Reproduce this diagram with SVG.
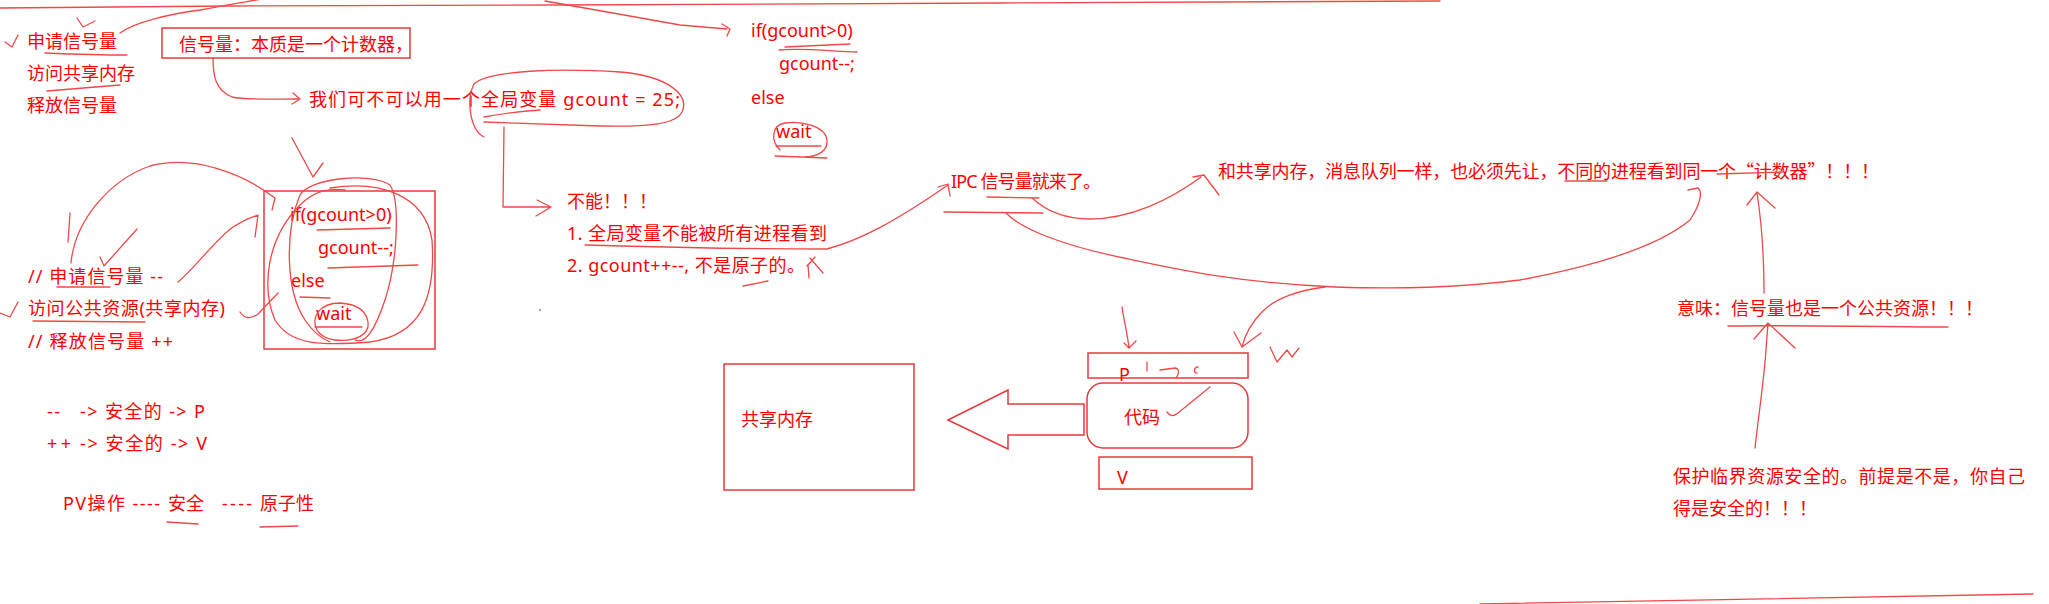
<svg xmlns="http://www.w3.org/2000/svg" width="2049" height="604" viewBox="0 0 2049 604">
<style>
.t{font-family:"Noto Sans","Noto Sans CJK SC",sans-serif;font-size:18px;fill:#F00}
.c{font-family:"Noto Sans CJK SC",sans-serif;font-size:18px;fill:#F00}
.s{fill:none;stroke:#F04848;stroke-width:1.3;stroke-linecap:round;stroke-linejoin:round}
.b{fill:none;stroke:#E8383D;stroke-width:1.5}
</style>
<rect width="2049" height="604" fill="#fff"/>
<g id="notes-left">
<text class="c" x="27" y="48">申请信号量</text>
<text class="c" x="27" y="80">访问共享内存</text>
<text class="c" x="27" y="112">释放信号量</text>
</g>
<g id="node-essence">
<rect class="b" x="162" y="28" width="248" height="30"/>
<text class="c" x="179" y="51">信号量：本质是一个计数器，</text>
</g>
<g id="node-global">
<text class="t" x="309" y="106" textLength="371" lengthAdjust="spacing">我们可不可以用一个全局变量 gcount = 25;</text>
</g>
<g id="node-code-top">
<text class="t" x="751" y="37">if(gcount&gt;0)</text>
<text class="t" x="779" y="70">gcount--;</text>
<text class="t" x="751" y="104">else</text>
<text class="t" x="776" y="138">wait</text>
</g>
<g id="node-code-box">
<rect class="b" x="264" y="191" width="171" height="158"/>
<text class="t" x="290" y="221">if(gcount&gt;0)</text>
<text class="t" x="318" y="254">gcount--;</text>
<text class="t" x="291" y="287">else</text>
<text class="t" x="316" y="320">wait</text>
</g>
<g id="node-steps">
<text class="t" x="28" y="283" textLength="135" lengthAdjust="spacing">// 申请信号量 --</text>
<text class="t" x="28" y="315" textLength="197" lengthAdjust="spacing">访问公共资源(共享内存)</text>
<text class="t" x="28" y="348" textLength="145" lengthAdjust="spacing">// 释放信号量 ++</text>
</g>
<g id="node-pv">
<text class="t" x="47" y="418" textLength="13" lengthAdjust="spacing">--</text>
<text class="t" x="80" y="418" textLength="125" lengthAdjust="spacing">-&gt; 安全的 -&gt; P</text>
<text class="t" x="47" y="450" textLength="24" lengthAdjust="spacing">++</text>
<text class="t" x="80" y="450" textLength="127" lengthAdjust="spacing">-&gt; 安全的 -&gt; V</text>
<text class="t" x="63" y="510" textLength="97" lengthAdjust="spacing">PV操作 ----</text>
<text class="t" x="168" y="510">安全</text>
<text class="t" x="222" y="510" textLength="30" lengthAdjust="spacing">----</text>
<text class="t" x="260" y="510">原子性</text>
</g>
<g id="node-cannot">
<text class="t" x="567" y="208">不能！！！</text>
<text class="t" x="567" y="240" textLength="260" lengthAdjust="spacing">1. 全局变量不能被所有进程看到</text>
<text class="t" x="567" y="272" textLength="238" lengthAdjust="spacing">2. gcount++--, 不是原子的。</text>
</g>
<g id="node-ipc">
<text class="t" x="951" y="188" textLength="150" lengthAdjust="spacing">IPC 信号量就来了。</text>
</g>
<g id="node-same">
<text class="c" x="1218" y="178" textLength="661" lengthAdjust="spacing">和共享内存，消息队列一样，也必须先让，不同的进程看到同一个“计数器”！！！</text>
</g>
<g id="node-meaning">
<text class="c" x="1677" y="315">意味：信号量也是一个公共资源！！！</text>
</g>
<g id="node-protect">
<text class="c" x="1673" y="483" textLength="352" lengthAdjust="spacing">保护临界资源安全的。前提是不是，你自己</text>
<text class="c" x="1673" y="515">得是安全的！！！</text>
</g>
<g id="node-shm">
<rect class="b" x="724" y="364" width="190" height="126"/>
<text class="c" x="741" y="426">共享内存</text>
</g>
<g id="node-bigarrow">
<path class="b" d="M948,420 L1008,390 L1008,404 L1084,404 L1084,435 L1008,435 L1008,449 Z"/>
</g>
<g id="node-p">
<rect class="b" x="1088" y="353" width="160" height="25"/>
<text class="t" x="1119" y="381">P</text>
</g>
<g id="node-code">
<rect class="b" x="1087" y="383" width="161" height="65" rx="16"/>
<text class="c" x="1124" y="424">代码</text>
</g>
<g id="node-v">
<rect class="b" x="1099" y="457" width="153" height="32"/>
<text class="t" x="1117" y="484">V</text>
</g>
<g id="connectors">
<path class="s" stroke-width="1.6" d="M0,8 L230,6 L560,5 L1000,3 L1440,1"/>
<path class="s" d="M5,42 L12,47 L18,35"/>
<path class="s" d="M77,18 L83,27 L95,21"/>
<path class="s" d="M45,53 C70,54 100,55 127,55"/>
<path class="s" d="M47,91 C70,89 95,87 120,85"/>
<path class="s" d="M120,33 C135,22 170,14 200,10 C225,5 245,2 262,-1"/>
<path class="s" d="M545,1 C575,6 640,18 680,25 L727,29 M722,24 L730,29 L727,36"/>
<path class="s" d="M213,58 C213,75 215,90 232,97 C245,100 270,99 298,99 M293,93 L300,99 L292,104"/>
<path class="s" d="M484,137 C470,130 466,100 474,84 C488,70 560,68 620,72 C668,76 690,95 682,112 C676,124 650,127 600,126 L484,122"/>
<path class="s" d="M484,117 C500,114 520,111 540,110"/>
<path class="s" d="M504,127 L503,207 L550,207 M537,200 L551,207 L536,216"/>
<path class="s" d="M585,245 C650,247 760,249 827,249 C860,240 893,223 948,185 M938,187 L948,184 L950,196"/>
<path class="s" d="M743,286 L768,281"/>
<path class="s" d="M807,266 L815,257 M810,258 L823,273 M808,265 L809,278"/>
<circle cx="540" cy="310" r="0.9" fill="#F04848"/>
<path class="s" d="M779,50 C800,48 830,51 857,52 M785,47 L850,44"/>
<path class="s" d="M780,150 C770,140 772,125 785,123 C800,121 825,125 827,140 C828,150 820,156 805,157 M775,156 L827,158"/>
<path class="s" d="M776,146 L821,146"/>
<path class="s" d="M317,230 L390,228 M328,268 L418,265 M300,297 L330,298 M315,327 L362,327"/>
<path class="s" d="M318,312 C310,325 318,338 335,340 C355,342 370,335 368,322 C366,310 355,304 340,303 C330,303 322,307 318,312"/>
<path class="s" d="M300,195 C310,178 370,172 390,185 C400,200 398,260 385,300 C375,330 365,345 355,340 M300,195 C285,230 285,290 305,320 C315,335 325,340 330,342"/>
<path class="s" d="M330,188 C380,180 425,195 432,240 C436,300 420,335 370,342 C320,346 290,345 275,320 C262,290 265,240 300,205 C315,190 330,188 345,190"/>
<path class="s" d="M292,138 L313,177 L323,163"/>
<path class="s" d="M71,263 C75,220 110,180 150,166 C195,154 245,175 275,198 L272,210"/>
<path class="s" d="M70,213 L68,242"/>
<path class="s" d="M100,257 L104,266 L137,229"/>
<path class="s" d="M178,282 C195,268 215,240 233,227 C245,220 252,216 258,216 M250,218 L258,215 L255,237"/>
<path class="s" d="M240,312 C244,318 250,320 258,314 L278,293"/>
<path class="s" d="M0,313 L10,317 L18,302"/>
<path class="s" d="M57,287 L110,287 M33,321 L145,322"/>
<path class="s" d="M167,522 L198,524 M260,527 L298,526"/>
<path class="s" d="M987,197 L1039,198 M944,212 L1043,213"/>
<path class="s" d="M1032,198 C1045,210 1065,219 1090,219 C1130,219 1170,200 1201,177 M1193,177 L1204,175 L1219,195"/>
<path class="s" d="M1006,213 C1020,228 1060,245 1124,258 C1180,270 1240,283 1335,287 C1400,289 1455,288 1520,280 C1600,265 1660,245 1690,220 C1700,205 1703,192 1698,188 L1688,190"/>
<path class="s" d="M1325,287 C1300,290 1275,298 1262,312 C1252,322 1245,335 1242,347 M1234,332 L1242,347 L1261,333"/>
<path class="s" d="M1122,307 C1124,320 1127,333 1129,347 M1124,343 L1129,348 L1136,341"/>
<path class="s" d="M1270,347 L1277,362 L1287,350 L1292,357 L1299,348"/>
<path class="s" d="M1147,362 L1147,371 M1160,370 L1175,368 C1180,369 1179,374 1176,378 M1198,367 C1194,367 1193,373 1197,373"/>
<path class="s" d="M1167,412 C1170,416 1173,417 1178,413 C1188,405 1200,395 1210,387"/>
<path class="s" d="M1565,181 L1607,181 M1717,174 L1783,172"/>
<path class="s" d="M1764,293 C1764,260 1762,225 1757,193 M1747,205 L1757,192 L1775,208"/>
<path class="s" d="M1728,326 C1800,325 1900,327 1948,327"/>
<path class="s" d="M1755,448 C1758,420 1764,380 1766,350 L1768,323 M1754,339 L1768,323 L1795,348"/>
<path class="s" d="M1480,604 L2033,594"/>
</g>
</svg>
